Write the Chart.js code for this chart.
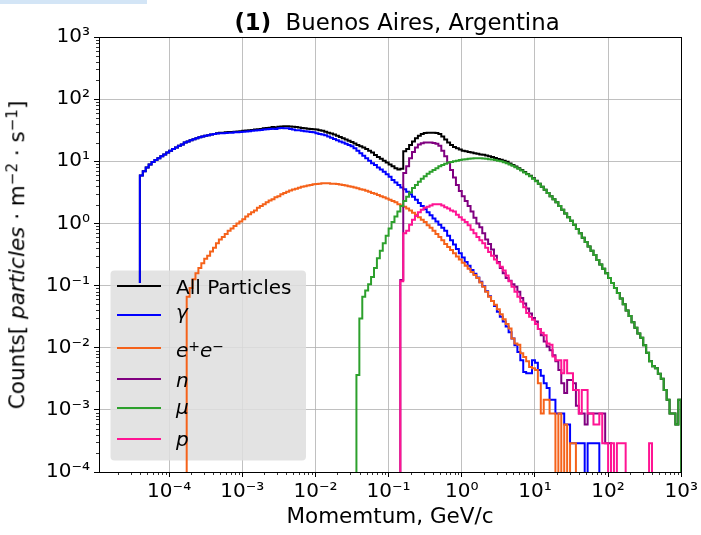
<!DOCTYPE html>
<html>
<head>
<meta charset="utf-8">
<script src="https://cdn.jsdelivr.net/npm/chart.js@4/dist/chart.umd.min.js"></script>
<style>
html,body{margin:0;padding:0;background:#fff;}
#wrap{position:relative;width:701px;height:535px;overflow:hidden;font-family:"DejaVu Sans",sans-serif;color:#000;}
canvas{position:absolute;left:0;top:0;}
.t{position:absolute;white-space:nowrap;}
sup{font-size:0.7em;vertical-align:0.45em;line-height:0;}
#strip{position:absolute;left:0;top:0;width:147px;height:4px;background:#d3e5f6;}
#title{font-size:22.8px;line-height:22px;left:397px;top:11px;transform:translateX(-50%);}
#xlab{font-size:21.5px;line-height:21.5px;left:390px;top:505px;transform:translateX(-50%);}
#ylab{font-size:21.5px;line-height:21.5px;left:16.6px;top:254.5px;transform:translate(-50%,-50%) rotate(-90deg);}
.lg{position:absolute;font-size:20px;line-height:20px;white-space:nowrap;left:176px;}
.ls{position:absolute;left:117px;width:44px;height:2px;}
.m{font-style:italic;}
</style>
</head>
<body>
<div id="wrap">
<canvas id="c" width="701" height="535"></canvas>
<div id="strip"></div>
<div class="t" id="title"><b>(1)</b>&nbsp; Buenos Aires, Argentina</div>
<div class="t" id="xlab">Momemtum, GeV/c</div>
<div class="t" id="ylab">Counts[ <i>particles</i> · m<sup>−2</sup> · s<sup>−1</sup>]</div>
<div id="legend"></div>
</div>
<script>
// ---------------- data ----------------
const binsPerDecade = 25;          // log-spaced histogram bins
const firstEdgeExp = -5;           // first bin edge = 10^-5 GeV/c
const xMin = 1.1e-5, xMax = 1e3;   // axis limits (GeV/c)
const yMin = 1e-4, yMax = 1e3;     // axis limits (counts)
const xMajorExps = [-4, -3, -2, -1, 0, 1, 2, 3];
const yMajorExps = [-4, -3, -2, -1, 0, 1, 2, 3];
const seriesLabels = ['All Particles', 'γ', 'e⁺e⁻', 'n', 'μ', 'p'];
const seriesColors = ['#000000', '#0000ff', '#f5621a', '#800080', '#2ca02c', '#ff1493'];

// All particles (first bin index 15)
const allStart = 15, allBase = 0.11;
const allCounts = [
 5.89,6.92,7.94,8.91,9.77,10.5,11.2,12.0,12.9,13.8,
 14.8,15.8,16.6,17.8,18.6,20.0,20.9,21.9,22.6,23.4,
 24.3,25.1,25.7,26.3,26.9,27.5,
 28.2,28.8,28.8,29.2,29.5,29.5,29.9,30.2,30.5,30.9,
 31.3,31.6,32.0,32.4,32.7,33.1,33.9,34.3,34.7,35.5,
 35.1,35.9,36.3,36.7,36.7,36.3,35.9,35.5,35.1,34.3,
 33.9,33.5,33.1,32.7,32.4,31.6,30.9,29.9,28.8,27.9,
 26.9,25.7,24.5,23.4,22.4,21.4,20.4,19.3,18.2,17.4,
 16.6,15.8,14.8,13.8,12.6,11.7,11.0,10.2,9.55,8.91,
 8.32,7.76,7.41,7.59,14.5,15.8,18.2,20.9,23.4,25.7,
 27.5,28.5,28.8,28.8,28.8,28.5,27.5,25.1,22.4,20.0,
 18.2,17.0,16.2,15.5,14.8,14.5,14.1,13.8,13.5,13.2,
 12.9,12.7,12.4,12.0,11.7,11.3,10.9,10.6,10.2,9.8,
 9.19,8.74,8.24,7.76,7.21,6.72,6.26,5.83,5.32,4.85,
 4.37,3.89,3.47,3.09,2.75,2.45,2.19,1.91,1.66,1.45,
 1.26,1.10,0.955,0.813,0.692,0.589,0.501,0.427,0.363,0.309,
 0.257,0.219,0.186,0.158,0.132,0.110,0.0912,0.0759,0.0617,0.0501,
 0.0398,0.0324,0.0257,0.0209,0.0170,0.0145,0.0110,0.00832,0.00603,0.00501,
 0.00468,0.00380,0.00316,0.00209,0.00145,0.00087,0.00087,0.00058,0.00145
];

// gamma (first bin index 15)
const gammaStart = 15, gammaBase = 0.11;
const gammaCounts = [
 5.89,6.92,7.94,8.91,9.77,10.5,11.2,12.0,12.9,13.8,
 14.8,15.8,16.6,17.8,18.6,20.0,20.9,21.9,22.6,23.4,
 24.3,25.1,25.7,26.3,26.9,27.5,27.9,28.2,28.2,28.5,
 28.8,28.8,29.2,29.3,29.5,29.9,30.2,30.5,30.9,31.3,
 31.6,32.0,32.4,32.7,33.1,33.5,33.1,33.9,34.3,33.9,
 33.9,33.1,32.4,31.6,31.6,30.9,30.5,30.2,29.5,29.2,
 28.2,27.5,26.9,26.3,25.1,24.0,22.9,21.9,20.9,20.0,
 19.1,18.2,17.4,16.2,14.8,13.5,12.3,11.2,10.2,9.33,
 8.71,7.94,7.41,6.76,6.17,5.62,5.01,4.57,4.17,3.80,
 3.55,3.24,2.95,2.69,2.40,2.14,1.91,1.70,1.51,1.35,
 1.20,1.07,0.955,0.851,0.759,0.631,0.537,0.457,0.389,0.331,
 0.282,0.240,0.209,0.178,0.155,0.135,0.115,0.0977,0.0813,0.0676,
 0.0562,0.0468,0.0380,0.0316,0.0263,0.0219,0.0178,0.0141,0.0110,0.00851,
 0.00631,0.00407,0.00389,0.00389,0.00631,0.00575,0.00437,0.00355,0.00269,0.00224,
 0.00145,0.00145,0.00087,0.00087,0.00087,0.00058,0.00058,0.00029,0.00029,0.00029,
 0.00029,0.00029,0,0.00029,0.00029,0.00029,0.00029
];

// e+e- (first bin index 31)
const elecStart = 31;
const elecCounts = [
 0.0661,0.0912,0.126,0.158,0.191,0.229,0.269,0.302,0.355,0.407,
 0.479,0.550,0.603,0.676,0.759,0.832,0.912,1.00,1.07,1.17,
 1.29,1.41,1.51,1.62,1.78,1.91,2.04,2.19,2.34,2.45,
 2.63,2.75,2.95,3.09,3.24,3.39,3.51,3.63,3.76,3.89,
 3.98,4.07,4.17,4.27,4.32,4.37,4.42,4.42,4.42,4.37,
 4.37,4.32,4.22,4.17,4.07,3.98,3.89,3.80,3.67,3.55,
 3.47,3.35,3.24,3.09,2.99,2.88,2.75,2.63,2.51,2.40,
 2.29,2.19,2.04,1.95,1.86,1.74,1.62,1.48,1.38,1.26,
 1.15,1.05,0.933,0.851,0.759,0.676,0.603,0.537,0.468,0.417,
 0.372,0.331,0.295,0.263,0.234,0.209,0.186,0.166,0.148,0.132,
 0.112,0.0955,0.0794,0.0661,0.0562,0.0490,0.0417,0.0347,0.0288,0.0240,
 0.0204,0.0141,0.0117,0.0112,0.00813,0.00708,0.00603,0.00490,0.00468,0.00437,
 0.00269,0.00087,0.00145,0.00145,0.00087,0.00087,0,0.00087,0,0.00058,
 0,0.00029,0.00029
];

// neutrons (first bin index 104)
const neutronStart = 104;
const neutronCounts = [
 0.123,6.46,8.32,11.2,14.1,16.6,18.6,19.5,20.0,20.0,
 20.0,19.7,19.1,17.8,14.8,12.0,9.55,7.24,5.50,4.17,
 3.31,2.75,2.29,1.91,1.55,1.23,1.00,0.871,0.692,0.550,
 0.468,0.380,0.302,0.240,0.191,0.158,0.132,0.120,0.105,0.0955,
 0.0794,0.0631,0.0513,0.0427,0.0355,0.0302,0.0263,0.0200,0.0158,0.0126,
 0.0105,0.00912,0.00759,0.00603,0.00437,0.00269,0.00186,0.00302,0.00302,0.00269,
 0.00116,0.00087,0.00087,0.00058,0.00087,0.00087,0.00087,0.00087,0.00087,0.00087,
 0.00029,0.00029
];

// muons (first bin index 89)
const muonStart = 89;
const muonCounts = [
 0.00363,0.0295,0.0661,0.0832,0.105,0.138,0.191,0.275,0.363,0.479,
 0.631,0.832,1.05,1.29,1.55,1.91,2.29,2.69,3.16,3.72,
 4.17,4.68,5.25,5.75,6.31,6.76,7.24,7.76,8.32,8.71,
 9.12,9.55,9.77,10.0,10.2,10.5,10.7,10.8,11.0,11.1,
 11.2,11.2,11.2,11.1,11.0,10.8,10.7,10.5,10.2,10.0,
 9.66,9.33,8.91,8.51,8.04,7.59,7.08,6.61,6.17,5.75,
 5.25,4.79,4.37,3.89,3.47,3.09,2.75,2.45,2.19,1.91,
 1.66,1.45,1.26,1.10,0.955,0.813,0.692,0.589,0.501,0.427,
 0.363,0.309,0.257,0.219,0.186,0.158,0.132,0.110,0.0912,0.0759,
 0.0617,0.0501,0.0398,0.0324,0.0257,0.0209,0.0170,0.0145,0.0110,0.00832,
 0.00603,0.00501,0.00468,0.00380,0.00316,0.00209,0.00145,0.00087,0.00087,0.00058,0.00145
];

// protons (first bin index 104)
const protonStart = 104;
const protonCounts = [
 0.117,0.692,0.759,0.955,1.15,1.32,1.51,1.66,1.78,1.86,
 1.95,2.04,2.04,2.04,1.95,1.82,1.74,1.62,1.55,1.38,
 1.26,1.15,1.05,0.933,0.794,0.692,0.603,0.537,0.479,0.407,
 0.347,0.302,0.263,0.229,0.200,0.174,0.145,0.117,0.0955,0.0794,
 0.0661,0.0550,0.0447,0.0363,0.0316,0.0282,0.0240,0.0200,0.0174,0.0158,
 0.0117,0.0112,0.00724,0.00631,0.00631,0.00389,0.00631,0.00389,0.00389,0.00209,
 0.00209,0.00087,0.00209,0.00209,0.00087,0.00087,0.00058,0.00058,0.00087,0.00029,
 0.00029,0,0.00029,0,0.00029,0.00029,0.00029,0,0,0,
 0,0,0,0,0,0.00029
];

// ---------------- build ----------------
const FLOOR = 1e-7; // empty bin: below the axis, clipped
const edge = j => Math.pow(10, firstEdgeExp + j / binsPerDecade);
function histPoints(start, counts, base) {
  const pts = [{x: edge(start), y: base}];
  counts.forEach((v, k) => pts.push({x: edge(start + k), y: v > 0 ? v : FLOOR}));
  pts.push({x: edge(start + counts.length), y: FLOOR});
  return pts;
}
const seriesData = [
  histPoints(allStart, allCounts, allBase),
  histPoints(gammaStart, gammaCounts, gammaBase),
  histPoints(elecStart, elecCounts, FLOOR),
  histPoints(neutronStart, neutronCounts, FLOOR),
  histPoints(muonStart, muonCounts, FLOOR),
  histPoints(protonStart, protonCounts, FLOOR)
];
const datasets = seriesData.map((d, i) => ({
  label: seriesLabels[i], data: d, borderColor: seriesColors[i], backgroundColor: seriesColors[i],
  borderWidth: 2, pointRadius: 0, pointHoverRadius: 0, fill: false, stepped: 'before',
  tension: 0, order: seriesData.length - i
}));

const SUP = {'-':'⁻','0':'⁰','1':'¹','2':'²','3':'³','4':'⁴','5':'⁵','6':'⁶','7':'⁷','8':'⁸','9':'⁹'};
const powLabel = e => '10' + String(e).split('').map(c => SUP[c]).join('');
function logTicks(min, max, majors) {
  const t = [];
  for (let e = Math.floor(Math.log10(min)); e <= Math.ceil(Math.log10(max)); e++) {
    for (let m = 1; m < 10; m++) {
      const v = m * Math.pow(10, e);
      if (v >= min * 0.9999 && v <= max * 1.0001) t.push({value: v, major: m === 1 && majors.includes(e)});
    }
  }
  return t;
}
const isMajor = c => !!(c.tick && c.tick.major);

const frame = {
  id: 'frame',
  beforeDatasetsDraw(chart) {
    const ctx = chart.ctx;
    ctx.save();
    ctx.fillStyle = 'rgba(222,222,222,0.85)';
    ctx.beginPath();
    if (ctx.roundRect) ctx.roundRect(110.5, 270.5, 195.5, 190, 4); else ctx.rect(110.5, 270.5, 195.5, 190);
    ctx.fill();
    ctx.restore();
  },
  afterDraw(chart) {
    const ctx = chart.ctx, a = chart.chartArea, xs = chart.scales.x, ys = chart.scales.y;
    ctx.save();
    ctx.strokeStyle = '#000';
    ctx.lineWidth = 0.8;
    ctx.beginPath();
    xs.ticks.forEach(t => { if (!t.major) { const p = Math.round(xs.getPixelForValue(t.value)) + 0.5; ctx.moveTo(p, a.bottom); ctx.lineTo(p, a.bottom + 3); } });
    ys.ticks.forEach(t => { if (!t.major) { const p = Math.round(ys.getPixelForValue(t.value)) + 0.5; ctx.moveTo(a.left, p); ctx.lineTo(a.left - 3, p); } });
    ctx.stroke();
    ctx.lineWidth = 1;
    ctx.strokeRect(Math.round(a.left) + 0.5, Math.round(a.top) + 0.5, Math.round(a.right - a.left), Math.round(a.bottom - a.top));
    ctx.restore();
  }
};

Chart.defaults.font.family = '"DejaVu Sans", sans-serif';
Chart.defaults.color = '#000';
new Chart(document.getElementById('c'), {
  type: 'line',
  data: { datasets },
  options: {
    responsive: false, animation: false, events: [],
    layout: { padding: { top: 37, right: 18, left: 0, bottom: 0 } },
    plugins: { legend: { display: false }, tooltip: { enabled: false }, title: { display: false } },
    scales: {
      x: {
        type: 'logarithmic', min: xMin, max: xMax, position: 'bottom',
        afterBuildTicks: s => { s.ticks = logTicks(xMin, xMax, xMajorExps); },
        afterFit: s => { s.height = 63; },
        ticks: { autoSkip: false, maxRotation: 0, minRotation: 0, padding: 3, font: { size: 20 },
          callback: (v, i, ticks) => ticks[i].major ? powLabel(Math.round(Math.log10(v))) : '' },
        grid: { color: c => isMajor(c) ? '#b0b0b0' : 'rgba(0,0,0,0)', lineWidth: 0.8,
          tickColor: c => isMajor(c) ? '#000' : 'rgba(0,0,0,0)', tickLength: 5, tickWidth: 1 },
        border: { color: '#000', width: 1 }
      },
      y: {
        type: 'logarithmic', min: yMin, max: yMax, position: 'left',
        afterBuildTicks: s => { s.ticks = logTicks(yMin, yMax, yMajorExps); },
        afterFit: s => { s.width = 99; },
        ticks: { autoSkip: false, padding: 4, font: { size: 20 },
          callback: (v, i, ticks) => ticks[i].major ? powLabel(Math.round(Math.log10(v))) : '' },
        grid: { color: c => isMajor(c) ? '#b0b0b0' : 'rgba(0,0,0,0)', lineWidth: 0.8,
          tickColor: c => isMajor(c) ? '#000' : 'rgba(0,0,0,0)', tickLength: 5, tickWidth: 1 },
        border: { color: '#000', width: 1 }
      }
    }
  },
  plugins: [frame]
});

// legend (HTML text)
const legendRows = [
  {y: 285.7, base: 294, html: 'All Particles'},
  {y: 315, base: 318.5, html: '<span class="m">γ</span>'},
  {y: 348.3, base: 356.5, html: '<span class="m">e</span><sup>+</sup><span class="m">e</span><sup>−</sup>'},
  {y: 379.3, base: 386.7, html: '<span class="m">n</span>'},
  {y: 408.3, base: 414, html: '<span class="m">μ</span>'},
  {y: 439.3, base: 446, html: '<span class="m">p</span>'}
];
const lg = document.getElementById('legend');
legendRows.forEach((r, i) => {
  const s = document.createElement('div');
  s.className = 'ls';
  s.style.top = (r.y - 1) + 'px';
  s.style.background = seriesColors[i];
  lg.appendChild(s);
  const t = document.createElement('div');
  t.className = 'lg';
  t.style.top = (r.base - 16.9) + 'px';
  t.innerHTML = r.html;
  lg.appendChild(t);
});
</script>
</body>
</html>
